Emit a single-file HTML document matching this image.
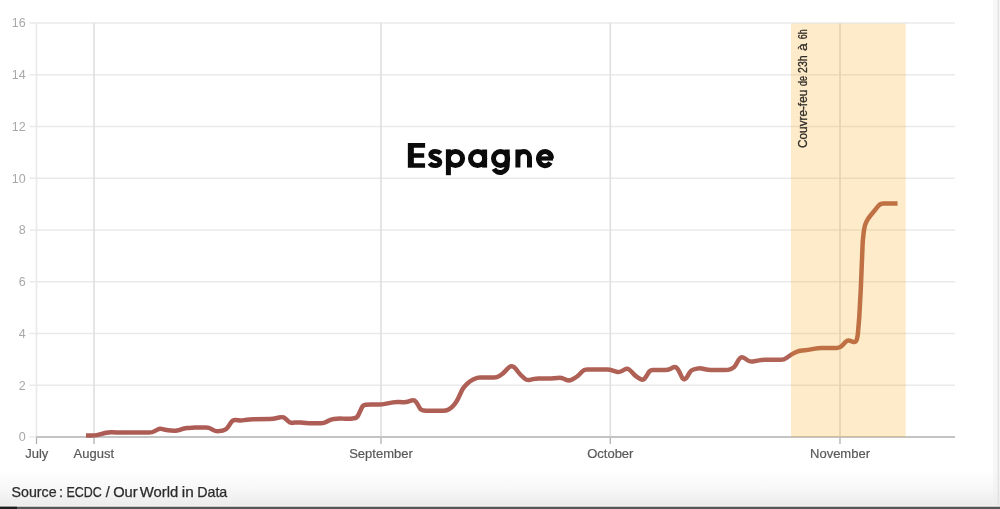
<!DOCTYPE html>
<html><head><meta charset="utf-8">
<style>
html,body{margin:0;padding:0;background:#fff;}
body{width:1000px;height:509px;overflow:hidden;position:relative;font-family:"Liberation Sans",sans-serif;}
svg{position:absolute;left:0;top:0;display:block;will-change:transform;}
text{font-family:"Liberation Sans",sans-serif;}
</style></head><body>
<svg width="1000" height="509" viewBox="0 0 1000 509">
<defs>
<linearGradient id="lg" gradientUnits="userSpaceOnUse" x1="86" y1="0" x2="898" y2="0">
<stop offset="0" stop-color="#ac5b55"/><stop offset="1" stop-color="#b16456"/>
</linearGradient>
<linearGradient id="bg" x1="0" y1="0" x2="0" y2="1">
<stop offset="0" stop-color="#ffffff"/><stop offset="0.5" stop-color="#f8f8f8"/><stop offset="1" stop-color="#ebebeb"/>
</linearGradient>
</defs>
<rect x="0" y="0" width="1000" height="509" fill="#fff"/>
<rect x="0" y="470" width="1000" height="36" fill="url(#bg)"/>
<rect x="993" y="0" width="7" height="506" fill="#ededed" fill-opacity="0.45"/>
<rect x="997.6" y="0" width="1.5" height="506" fill="#dedede" fill-opacity="0.8"/>
<rect x="0" y="505.6" width="1000" height="1" fill="#fbfbfb"/>
<rect x="0" y="506.7" width="1000" height="2.3" fill="#565656"/>
<rect x="0" y="506.7" width="17" height="2.3" fill="#1e1e1e"/>
<g stroke="#eaeaea" stroke-width="1.3"><line x1="29.5" y1="385.25" x2="955" y2="385.25"/><line x1="29.5" y1="333.50" x2="955" y2="333.50"/><line x1="29.5" y1="281.75" x2="955" y2="281.75"/><line x1="29.5" y1="230.00" x2="955" y2="230.00"/><line x1="29.5" y1="178.25" x2="955" y2="178.25"/><line x1="29.5" y1="126.50" x2="955" y2="126.50"/><line x1="29.5" y1="74.75" x2="955" y2="74.75"/><line x1="29.5" y1="23.00" x2="955" y2="23.00"/></g>
<g stroke="#dfdfdf" stroke-width="1.6">
<line x1="36.5" y1="23" x2="36.5" y2="437" stroke="#e9e9e9"/>
<line x1="94" y1="23" x2="94" y2="437"/>
<line x1="381" y1="23" x2="381" y2="437"/>
<line x1="610.3" y1="23" x2="610.3" y2="437"/>
<line x1="840" y1="23" x2="840" y2="437" />
</g>
<g stroke="#b0b0b0" stroke-width="1.3">
<line x1="36.5" y1="437" x2="36.5" y2="444"/>
<line x1="94" y1="437" x2="94" y2="444"/>
<line x1="381" y1="437" x2="381" y2="444"/>
<line x1="610.3" y1="437" x2="610.3" y2="444"/>
<line x1="840" y1="437" x2="840" y2="444"/>
</g>
<line x1="29.5" y1="437" x2="36" y2="437" stroke="#e8e8e8" stroke-width="1.4"/>
<line x1="36" y1="437" x2="955" y2="437" stroke="#c4c4c4" stroke-width="2"/>
<g font-size="12.5" fill="#a8a8a8" text-anchor="end"><text x="25.6" y="441.30">0</text><text x="25.6" y="389.55">2</text><text x="25.6" y="337.80">4</text><text x="25.6" y="286.05">6</text><text x="25.6" y="234.30">8</text><text x="25.6" y="182.55">10</text><text x="25.6" y="130.80">12</text><text x="25.6" y="79.05">14</text><text x="25.6" y="27.30">16</text></g>
<g font-size="13" fill="#595959" stroke="#595959" stroke-width="0.2" text-anchor="middle">
<text x="36.8" y="458">July</text>
<text x="93.8" y="458">August</text>
<text x="381" y="458">September</text>
<text x="610.3" y="458">October</text>
<text x="840" y="458">November</text>
</g>
<path fill="none" stroke="url(#lg)" stroke-width="4.5" stroke-linejoin="round" stroke-linecap="butt" d="M86.00,435.60 L92.00,435.60 Q95.00,435.60 97.91,434.85 L106.09,432.75 Q109.00,432.00 112.00,432.16 L117.00,432.44 Q120.00,432.60 123.00,432.60 L149.00,432.60 Q152.00,432.60 154.63,431.15 L156.97,429.85 Q159.60,428.40 162.52,429.09 L165.08,429.71 Q168.00,430.40 171.00,430.53 L174.00,430.67 Q177.00,430.80 179.84,429.83 L181.16,429.37 Q184.00,428.40 186.99,428.10 L189.01,427.90 Q192.00,427.60 195.00,427.60 L206.00,427.60 Q209.00,427.60 211.60,429.09 L213.40,430.11 Q216.00,431.60 218.96,431.13 L223.04,430.47 Q226.00,430.00 227.68,427.51 L231.32,422.09 Q233.00,419.60 235.98,419.97 L238.02,420.23 Q241.00,420.60 243.96,420.14 L247.04,419.66 Q250.00,419.20 253.00,419.17 L270.00,419.03 Q273.00,419.00 275.91,418.29 L279.09,417.51 Q282.00,416.80 283.50,417.40 L283.50,417.40 Q285.00,418.00 287.08,420.16 L287.92,421.04 Q290.00,423.20 292.98,422.83 L295.02,422.57 Q298.00,422.20 300.98,422.57 L303.02,422.83 Q306.00,423.20 309.00,423.20 L321.00,423.20 Q324.00,423.20 326.60,421.71 L328.40,420.69 Q331.00,419.20 333.99,418.93 L337.01,418.67 Q340.00,418.40 342.99,418.62 L345.01,418.78 Q348.00,419.00 350.98,418.67 L354.02,418.33 Q357.00,418.00 358.26,415.28 L361.74,407.72 Q363.00,405.00 365.50,404.70 L365.50,404.70 Q368.00,404.40 371.00,404.40 L379.00,404.40 Q382.00,404.40 384.95,403.85 L393.05,402.35 Q396.00,401.80 398.99,401.98 L403.01,402.22 Q406.00,402.40 408.81,401.36 L410.19,400.84 Q413.00,399.80 414.50,400.60 L414.50,400.60 Q416.00,401.40 417.46,404.02 L419.54,407.78 Q421.00,410.40 423.50,410.60 L423.50,410.60 Q426.00,410.80 429.00,410.80 L443.00,410.80 Q446.00,410.80 448.65,409.39 L449.35,409.01 Q452.00,407.60 453.81,405.21 L455.19,403.39 Q457.00,401.00 458.26,398.28 L461.74,390.72 Q463.00,388.00 465.12,385.88 L467.88,383.12 Q470.00,381.00 472.70,379.69 L474.30,378.91 Q477.00,377.60 480.00,377.60 L494.00,377.60 Q497.00,377.60 499.50,375.94 L500.50,375.26 Q503.00,373.60 505.03,371.39 L507.97,368.21 Q510.00,366.00 512.00,366.20 L512.00,366.20 Q514.00,366.40 515.80,368.80 L518.20,372.00 Q520.00,374.40 522.25,376.39 L524.75,378.61 Q527.00,380.60 529.91,379.89 L533.09,379.11 Q536.00,378.40 539.00,378.40 L551.00,378.40 Q554.00,378.40 556.98,378.06 L558.02,377.94 Q561.00,377.60 563.76,378.77 L566.24,379.83 Q569.00,381.00 571.68,379.66 L574.32,378.34 Q577.00,377.00 579.06,374.82 L581.94,371.78 Q584.00,369.60 587.00,369.60 L607.00,369.60 Q610.00,369.60 612.85,370.55 L616.15,371.65 Q619.00,372.60 621.63,371.15 L624.37,369.65 Q627.00,368.20 628.50,369.10 L628.50,369.10 Q630.00,370.00 632.02,372.22 L633.98,374.38 Q636.00,376.60 638.64,378.03 L640.36,378.97 Q643.00,380.40 644.50,378.70 L644.50,378.70 Q646.00,377.00 647.49,374.40 L648.51,372.60 Q650.00,370.00 653.00,370.00 L665.00,370.00 Q668.00,370.00 670.67,368.63 L672.33,367.77 Q675.00,366.40 676.50,367.70 L676.50,367.70 Q678.00,369.00 679.28,371.71 L681.72,376.89 Q683.00,379.60 684.50,379.30 L684.50,379.30 Q686.00,379.00 687.46,376.38 L689.54,372.62 Q691.00,370.00 693.93,369.35 L697.07,368.65 Q700.00,368.00 702.91,368.73 L705.09,369.27 Q708.00,370.00 711.00,370.00 L725.00,370.00 Q728.00,370.00 730.85,369.05 L731.15,368.95 Q734.00,368.00 735.48,365.39 L738.52,360.01 Q740.00,357.40 741.50,357.20 L741.50,357.20 Q743.00,357.00 745.44,358.74 L747.56,360.26 Q750.00,362.00 752.95,361.46 L759.05,360.34 Q762.00,359.80 765.00,359.80 L781.00,359.80 Q784.00,359.80 786.43,358.04 L789.57,355.76 Q792.00,354.00 794.73,352.75 L796.27,352.05 Q799.00,350.80 801.99,350.53 L805.01,350.27 Q808.00,350.00 810.94,349.41 L815.06,348.59 Q818.00,348.00 821.00,348.00 L837.00,348.00 Q840.00,348.00 842.02,345.79 L845.48,342.01 Q847.50,339.80 850.32,340.82 L852.98,341.78 Q855.80,342.80 856.69,339.93 L856.71,339.87 Q857.60,337.00 857.85,334.01 L858.95,320.99 Q859.20,318.00 859.37,315.00 L860.63,292.00 Q860.80,289.00 860.92,286.00 L862.58,245.00 Q862.70,242.00 863.00,239.01 L863.50,233.99 Q863.80,231.00 864.40,228.06 L864.60,227.14 Q865.20,224.20 866.56,221.53 L866.84,220.97 Q868.20,218.30 870.11,215.98 L878.39,205.92 Q880.30,203.60 883.30,203.60 L897.50,203.60"/>
<rect x="791" y="23.5" width="114.7" height="413.5" fill="rgb(246,164,5)" fill-opacity="0.215"/>
<g transform="translate(807.3,147.4) rotate(-90)" font-size="12" fill="#2e2a25" stroke="#2e2a25" stroke-width="0.3"><text x="-0.5" y="0" textLength="58.1" lengthAdjust="spacingAndGlyphs">Couvre-feu</text><text x="61.4" y="0" textLength="10.0" lengthAdjust="spacingAndGlyphs">de</text><text x="74.5" y="0" textLength="17.5" lengthAdjust="spacingAndGlyphs">23h</text><text x="96.5" y="0" textLength="7.8" lengthAdjust="spacingAndGlyphs">à</text><text x="108.2" y="0" textLength="9.9" lengthAdjust="spacingAndGlyphs">6h</text></g>
<g id="title" fill="none" stroke="#0b0b0b" stroke-width="5" stroke-linecap="butt">
<path fill="#0b0b0b" stroke="none" d="M407.85,143.1H425.1V147.8H413.85V153.3H424.2V157.7H413.85V163.2H425.1V167.8H407.85Z"/>
<path stroke-width="4.8" d="M440.6,153.4C439.2,151.9 437.5,151.3 435.3,151.3C432.6,151.3 430.7,152.6 430.7,154.6C430.7,156.9 433,157.6 435.3,158.4C437.8,159.2 439.9,160 439.9,162.3C439.9,164.4 437.8,165.7 435.1,165.7C432.7,165.7 430.8,164.9 429.6,163.2"/>
<path d="M448.4,149.3V175.2"/><circle cx="455.5" cy="158.5" r="7.1"/>
<circle cx="477.6" cy="158.5" r="7.1"/><path d="M484.6,149.5V167.6"/>
<circle cx="500.6" cy="158.5" r="7.1"/><path d="M507.2,149.5V165.4A7.1,7.1 0 0 1 493.9,168.9"/>
<path d="M517.9,149.5V167.6M517.9,157.3A5.8,5.8 0 0 1 529.5,157.3V167.6"/>
<path d="M551.5,158.5A6.5,7.1 0 1 0 550.4,162.5"/><path stroke-width="4.2" d="M538.5,158.5H553"/>
</g>
<g font-size="14.5" fill="#2b2b2b" stroke="#2b2b2b" stroke-width="0.25"><text x="11.5" y="497.4" textLength="45.1" lengthAdjust="spacingAndGlyphs">Source</text><text x="60.9" y="497.4" text-anchor="middle">:</text><text x="66.4" y="497.4" textLength="35.3" lengthAdjust="spacingAndGlyphs">ECDC</text><text x="107.7" y="497.4" text-anchor="middle">/</text><text x="113.2" y="497.4" textLength="24.5" lengthAdjust="spacingAndGlyphs">Our</text><text x="139.8" y="497.4" textLength="38.5" lengthAdjust="spacingAndGlyphs">World</text><text x="181.8" y="497.4" textLength="11.9" lengthAdjust="spacingAndGlyphs">in</text><text x="197.2" y="497.4" textLength="30.1" lengthAdjust="spacingAndGlyphs">Data</text></g>
</svg>
</body></html>
